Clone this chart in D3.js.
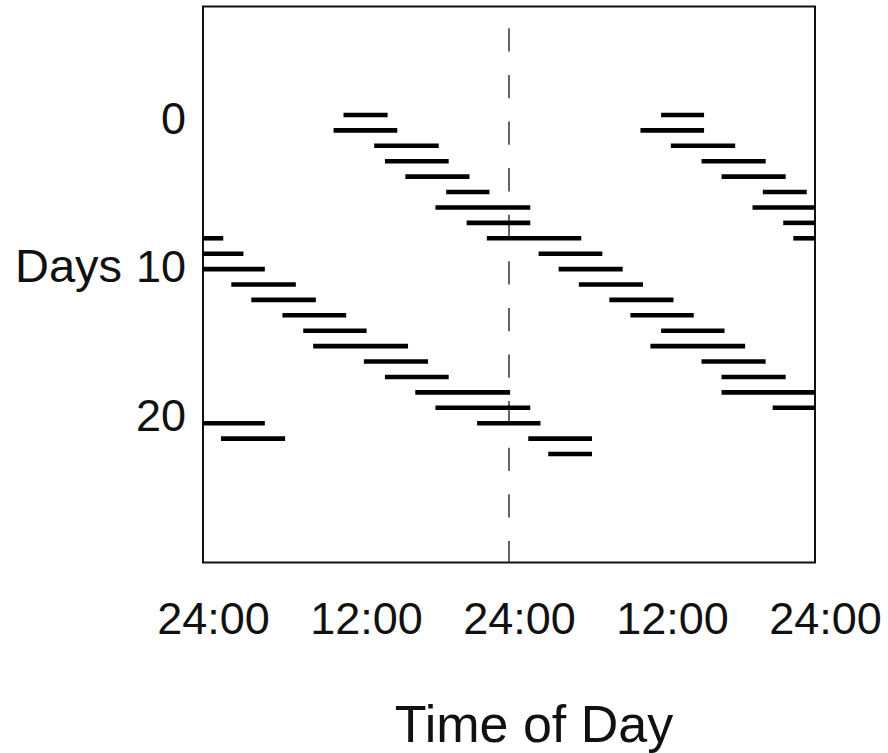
<!DOCTYPE html>
<html>
<head>
<meta charset="utf-8">
<script src="https://cdn.jsdelivr.net/npm/d3@7"></script>
<style>
  html, body { margin: 0; padding: 0; background: #fff; }
  svg { display: block; }
  text { font-family: "Liberation Sans", Arial, Helvetica, sans-serif; fill: #111; }
</style>
</head>
<body>
<svg id="chart" width="888" height="753"></svg>
<script>
// ---- data (hours on a double-plotted 0–48 h axis; one row per day) ----
const dayRows = [0,0, 1,1, 2,2, 3,3, 4,4, 5,5, 6,6, 7,7, 8,8,8, 9,9, 10,10, 11,11, 12,12,
                 13,13, 14,14, 15,15, 16,16, 17,17, 18,18, 19,19, 20,20, 21,21, 22];
const onsets  = [11.02,35.93, 10.24,34.31, 13.43,36.69, 14.27,39.10, 15.87,40.67, 19.07,43.91,
                 18.23,43.10, 20.68,45.51, 0,22.26,46.30, 0,26.32, 0,27.89, 2.22,29.48, 3.79,31.87,
                 6.23,33.52, 7.86,35.93, 8.64,35.09, 12.62,39.10, 14.27,40.67, 16.65,40.67,
                 18.23,44.68, 0,21.50, 1.41,25.51, 27.08];
const offsets = [14.48,39.30, 15.24,39.30, 18.49,41.74, 19.27,44.13, 20.90,45.70, 22.47,47.35,
                 25.67,48, 25.67,48, 1.59,29.67,48, 3.17,31.32, 4.85,32.92, 7.28,34.51, 8.85,36.90,
                 11.23,38.49, 12.83,40.90, 16.08,42.52, 17.65,44.13, 19.27,45.70, 24.09,48,
                 25.67,48, 4.85,26.47, 6.44,30.51, 30.51];
const xTickValues = [0, 12, 24, 36, 48];
const xTickLabels = ["24:00", "12:00", "24:00", "12:00", "24:00"];
const yTickValues = [0, 10, 20];
const yTickLabels = ["0", "10", "20"];
const xTitle = "Time of Day";
const yTitle = "Days";

// ---- scales ----
const x = d3.scaleLinear().domain([0, 48]).range([203, 815]);
const y = d3.scaleLinear().domain([0, 22]).range([115, 454]);
const yLabel = d3.scaleLinear().domain([0, 20]).range([117.5, 414]);

const svg = d3.select("#chart");
const frame = { top: 6.5, bottom: 562.5 };

// frame
svg.append("rect")
  .attr("x", x(0)).attr("y", frame.top)
  .attr("width", x(48) - x(0)).attr("height", frame.bottom - frame.top)
  .attr("fill", "none").attr("stroke", "#111").attr("stroke-width", 2);

// midnight dashed line
svg.append("line")
  .attr("x1", x(24)).attr("x2", x(24))
  .attr("y1", frame.top).attr("y2", frame.bottom)
  .attr("stroke", "#333").attr("stroke-width", 1.5)
  .attr("stroke-dasharray", "23.3,23.3")
  .attr("stroke-dashoffset", 24.8);

// activity bars
const bars = dayRows.map((r, i) => ({ row: r, s: onsets[i], e: offsets[i] }));
svg.append("g").selectAll("line").data(bars).join("line")
  .attr("x1", d => x(d.s)).attr("x2", d => x(d.e))
  .attr("y1", d => y(d.row)).attr("y2", d => y(d.row))
  .attr("stroke", "#000").attr("stroke-width", 4.6);

// x tick labels
const xAxis = d3.axisBottom(x).tickValues(xTickValues)
  .tickFormat((d, i) => xTickLabels[i]).tickSize(0).tickPadding(0);
const gx = svg.append("g").attr("transform", `translate(10,${frame.bottom})`).call(xAxis);
gx.select(".domain").remove();
gx.selectAll("text")
  .attr("y", 71).attr("dy", null)
  .style("font-family", '"Liberation Sans", Arial, sans-serif')
  .style("font-size", "45px").attr("fill", "#111");

// y tick labels
const yAxis = d3.axisLeft(yLabel).tickValues(yTickValues)
  .tickFormat((d, i) => yTickLabels[i]).tickSize(0).tickPadding(0);
const gy = svg.append("g").attr("transform", `translate(186,0)`).call(yAxis);
gy.select(".domain").remove();
gy.selectAll("text")
  .attr("dy", "0.36em")
  .style("font-family", '"Liberation Sans", Arial, sans-serif')
  .style("font-size", "45px").attr("fill", "#111");

// axis titles
svg.append("text").attr("x", 15).attr("y", 281.5)
  .attr("text-anchor", "start").style("font-size", "47px").text(yTitle);
svg.append("text").attr("x", 534).attr("y", 741.5)
  .attr("text-anchor", "middle").style("font-size", "52px").text(xTitle);
</script>
</body>
</html>
